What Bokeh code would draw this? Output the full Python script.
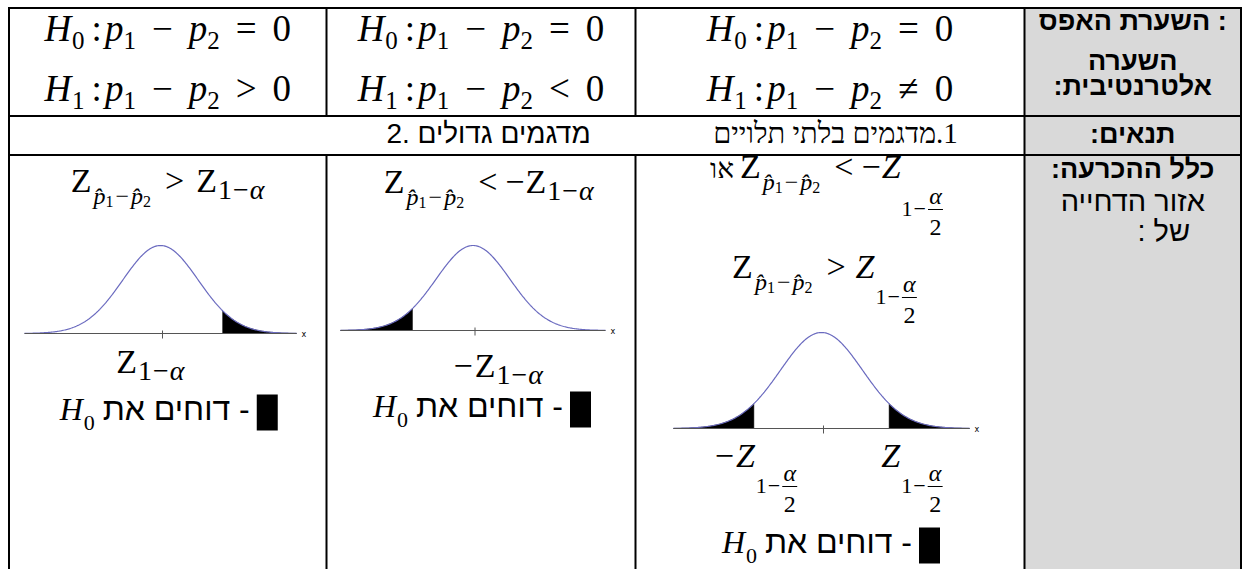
import numpy as np
from bokeh.plotting import figure
from bokeh.models import Range1d, ColumnDataSource
from bokeh.embed import file_html
from bokeh.resources import INLINE
from bokeh.core.properties import value, field

# ---------------- data (content of the table) ----------------
LRM, RLM = "\u200e", "\u200f"
header_lines = [LRM + "השערת האפס :", LRM + "השערה", LRM + "אלטרנטיבית:" + RLM,
                LRM + "תנאים:" + RLM,
                LRM + "כלל ההכרעה:" + RLM, LRM + "אזור הדחייה", LRM + "של :" + RLM]
conditions = [LRM + "2. מדגמים גדולים", LRM + RLM + "1.מדגמים בלתי תלויים"]
h1_ops = [">", "<", "≠"]          # alternative hypothesis per column (left to right)
decision_ops = [">", "<", "<"]    # decision-rule relation per column
crit_z = [1.645, -1.645, 1.645]   # critical values drawn on the curves
tails = ["right", "left", "two"]
reject_label = LRM + "דוחים את -"
or_word = LRM + "או"
z_max = 3.6

# ---------------- layout ----------------
MATH = "Liberation Serif"
HEB_SANS = "Liberation Sans"
HEB_SERIF = "Liberation Serif"
K_BASE = 0.345   # text is anchored on its middle: shift from wanted baseline

W, H = 1248, 569
col_x = [8.5, 326, 635, 1024, 1240.5]
row_y = [7.5, 115.5, 154.5]
col_c = [(col_x[i] + col_x[i + 1]) / 2 for i in range(4)]

p = figure(width=W, height=H, x_range=Range1d(0, W), y_range=Range1d(H, 0),
           output_backend="svg", toolbar_location=None, min_border=0,
           background_fill_color="white", border_fill_color="white")
p.axis.visible = False
p.grid.visible = False
p.outline_line_color = None

# header column fill
p.quad(left=[col_x[3]], right=[col_x[4]], top=[row_y[0]], bottom=[H], color="#d9d9d9", line_color=None)

# table lines
hy = list(row_y)
p.segment(x0=[col_x[0] - 1] * 3, x1=[col_x[4] + 1] * 3, y0=hy, y1=hy, line_color="black", line_width=2)
vx, vy0, vy1 = [], [], []
for i, x in enumerate(col_x):
    if i in (1, 2):
        vx += [x, x]; vy0 += [row_y[0], row_y[2]]; vy1 += [row_y[1], H]
    else:
        vx.append(x); vy0.append(row_y[0]); vy1.append(H)
p.segment(x0=vx, x1=vx, y0=vy0, y1=vy1, line_color="black", line_width=2)

# ---------------- text layout engine ----------------
W_RM = {c: .5 for c in "0123456789"}
W_RM.update({':': .278, '=': .564, '<': .564, '>': .564, '−': .564, '≠': .564,
             'Z': .611, ' ': .25, '.': .25, '-': .333})
W_IT = {'H': .722, 'p': .5, 'α': .54, 'Z': .556}

T = dict(x=[], y=[], text=[], size=[], style=[], font=[], align=[])
bars = dict(x0=[], x1=[], y=[])


def put(x, y, t, size, style="normal", font=MATH, align="left"):
    T["x"].append(x); T["y"].append(y - K_BASE * size); T["text"].append(t)
    T["size"].append(f"{size}px"); T["style"].append(style)
    T["font"].append(font); T["align"].append(align)


def tw(t, style):
    tab = W_IT if style == "italic" else W_RM
    return sum(tab.get(c, .5) for c in t if c not in "\u0302")


def run(tokens, x0, base, dry=False):
    x = x0
    for tk in tokens:
        if tk[0] == "t":
            _, t, size, dy, style, gap = tk
            x += gap
            if not dry:
                put(x, base + dy, t, size, style)
            x += tw(t, style) * size
        else:  # stacked fraction used in subscripts
            _, num, den, size, gap, extra = tk
            x += gap
            w = max(tw(num, "italic"), tw(den, "normal")) * size + 4
            if not dry:
                cx = x + w / 2
                put(cx, base + 14 + extra, num, size, "italic", align="center")
                put(cx, base + 45 + extra, den, size, "normal", align="center")
                bars["x0"].append(x + 1); bars["x1"].append(x + w - 1); bars["y"].append(base + 19 + extra)
            x += w
    return x - x0


def centered(tokens, cx, base):
    w = run(tokens, 0, 0, dry=True)
    run(tokens, cx - w / 2, base)
    return cx - w / 2, w


def t(txt, size, dy=0, style="normal", gap=0):
    return ("t", txt, size, dy, style, gap)


# hypotheses (row 1)
def hyp(n, op):
    return [t("H", 37, 0, "italic"), t(str(n), 25, 8, "normal", 1), t(":", 37, 0, "normal", 7),
            t("p", 37, 0, "italic", 3), t("1", 25, 8), t("−", 37, 0, "normal", 16),
            t("p", 37, 0, "italic", 16), t("2", 25, 8), t("=" if n == 0 else op, 37, 0, "normal", 16),
            t("0", 37, 0, "normal", 16)]


for i in range(3):
    xs, w = centered(hyp(0, "="), col_c[i], 41)
    run(hyp(1, h1_ops[i]), xs, 101)

# conditions (row 2)
put(488, 143, conditions[0], 28, "normal", HEB_SANS, "center")
put(835, 143, conditions[1], 29, "normal", HEB_SERIF, "center")

# header column
hdr_pos = [(22, True), (62, True), (87, True), (135, True), (170, True), (203, False), (233, False)]
for k, (txt, (yc, bold)) in enumerate(zip(header_lines, hdr_pos)):
    cx = col_c[3] + (31 if k == 6 else 0)
    put(cx, yc + 8, txt, 27 if bold else 29, "bold" if bold else "normal", HEB_SANS, "center")

# decision rules (row 3)
zsub = [t("Z", 34), t("p\u0302", 24, 12, "italic", 2), t("1", 16, 15), t("−", 24, 12, "normal", 2),
        t("p\u0302", 24, 12, "italic", 2), t("2", 16, 15)]
sub_a = [t("1", 28, 7, "normal", 1), t("−", 28, 7, "normal", 1), t("α", 28, 7, "italic", 1)]


def sub_f(extra=0):
    return [t("1", 22, 26 + extra, "normal", 1), t("−", 22, 26 + extra, "normal", 1),
            ("f", "α", "2", 24, 1, extra)]


centered(zsub + [t(decision_ops[0], 34, 0, "normal", 14), t("Z", 34, 0, "normal", 12)] + sub_a,
         col_c[0], 192)
centered(zsub + [t(decision_ops[1], 34, 0, "normal", 14), t("−", 34, 0, "normal", 8),
                 t("Z", 34, 0, "normal", 1)] + sub_a, col_c[1] + 8, 193)
xs, w = centered(zsub + [t(decision_ops[2], 34, 0, "normal", 14), t("−", 34, 0, "normal", 8),
                         t("Z", 34, 0, "italic", 1)] + sub_f(12), col_c[2] + 12, 178)
put(xs - 6, 178, or_word, 28, "normal", HEB_SERIF, "right")
centered(zsub + [t(">", 34, 0, "normal", 14), t("Z", 34, 0, "italic", 10)] + sub_f(), col_c[2] - 5, 278)

# ---------------- normal curves ----------------
curve_geo = [(160, 136, 333, 88), (472.5, 132.5, 330, 85), (821, 148, 428, 96)]
zg = np.union1d(np.linspace(-z_max, z_max, 301), [-abs(c) for c in crit_z] + [abs(c) for c in crit_z])
dens = np.exp(-zg ** 2 / 2)
ax_x0, ax_x1, ax_y, tk_x, tk_y0, tk_y1 = [], [], [], [], [], []
for i, (cx, hw, ay, ph) in enumerate(curve_geo):
    X = cx + zg / z_max * hw
    Y = ay - ph * dens
    c = crit_z[i]
    if tails[i] == "right":
        masks = [zg >= c]
    elif tails[i] == "left":
        masks = [zg <= c]
    else:
        masks = [zg >= abs(c), zg <= -abs(c)]
    for m in masks:
        xs_ = np.concatenate([X[m], X[m][::-1]])
        ys_ = np.concatenate([Y[m], np.full(m.sum(), ay)])
        p.patch(xs_, ys_, color="black", line_color="black", line_width=0.5)
    ax_x0.append(X[0]); ax_x1.append(X[-1]); ax_y.append(ay)
    tk_x.append(cx + 2); tk_y0.append(ay - 3); tk_y1.append(ay + 5)
    p.line(X, Y, line_color="#6a6abf", line_width=1.2)
    put(X[-1] + 5, ay + 4, "x", 8, "normal", "DejaVu Sans", "left")
p.segment(x0=ax_x0, x1=ax_x1, y0=ax_y, y1=ax_y, line_color="#555555", line_width=1)
p.segment(x0=tk_x, x1=tk_x, y0=tk_y0, y1=tk_y1, line_color="#555555", line_width=1)

# curve labels
centered([t("Z", 34)] + sub_a, 150, 373)
centered([t("−", 34), t("Z", 34, 0, "normal", 2)] + sub_a, 498, 377)
centered([t("−", 34), t("Z", 34, 0, "italic", 2)] + sub_f(), 756, 467)
centered([t("Z", 34, 0, "italic")] + sub_f(), 912, 467)

# reject-region legend rows
leg_base = [420, 417, 553]
sq_l, sq_r, sq_t, sq_b = [], [], [], []
for i in range(3):
    xh = col_c[i] - 108
    run([t("H", 32, 0, "italic"), t("0", 22, 10, "normal", 1)], xh, leg_base[i])
    put(xh + 190, leg_base[i], reject_label, 32, "normal", HEB_SANS, "right")
    sq_l.append(xh + 197); sq_r.append(xh + 218)
    sq_t.append(leg_base[i] - 26); sq_b.append(leg_base[i] + 10)
p.quad(left=sq_l, right=sq_r, top=sq_t, bottom=sq_b, color="black", line_color=None)

p.segment(x0=bars["x0"], x1=bars["x1"], y0=bars["y"], y1=bars["y"], line_color="black", line_width=1)

src = ColumnDataSource(T)
p.text(x="x", y="y", text="text", source=src, text_font=field("font"), text_font_size=field("size"),
       text_font_style=field("style"), text_align=field("align"), text_baseline=value("alphabetic"),
       text_color="black")

open("out.html", "w").write(file_html(p, INLINE))
